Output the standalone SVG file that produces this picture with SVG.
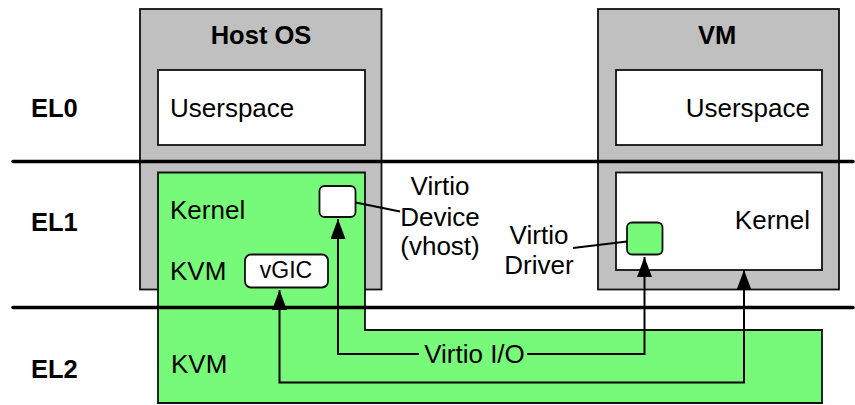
<svg xmlns="http://www.w3.org/2000/svg" width="855" height="405" viewBox="0 0 855 405">
<defs>
<style>
.t{font-family:"Liberation Sans",Arial,Helvetica,sans-serif;font-size:26px;fill:#000}
.b{font-weight:bold;font-size:25.5px}
.gray{fill:#c0c0c0;stroke:#111;stroke-width:1.8}
.white{fill:#fff;stroke:#111;stroke-width:1.8}
.green{fill:#77f97a;stroke:#111;stroke-width:1.8}
.el{stroke:#000;stroke-width:3.5;stroke-linecap:round;fill:none}
.conn{stroke:#000;stroke-width:2;fill:none}
</style>
<marker id="arr" markerUnits="userSpaceOnUse" markerWidth="20" markerHeight="15" refX="20" refY="7.5" orient="auto-start-reverse" viewBox="0 0 20 15">
<path d="M0,0 L20,7.5 L0,15 z" fill="#000"/>
</marker>
</defs>
<rect width="855" height="405" fill="#fff"/>

<g id="host-os">
<rect class="gray" x="140" y="9" width="241.5" height="280.5"/>
<text class="t b" x="261" y="44" text-anchor="middle">Host OS</text>
</g>
<g id="host-userspace">
<rect class="white" x="158" y="70" width="207" height="75"/>
<text class="t" x="170" y="117">Userspace</text>
</g>

<g id="vm">
<rect class="gray" x="598" y="9" width="241" height="280.5"/>
<text class="t b" x="717" y="44" text-anchor="middle">VM</text>
</g>
<g id="vm-userspace">
<rect class="white" x="616" y="70" width="206" height="75"/>
<text class="t" x="810" y="117" text-anchor="end">Userspace</text>
</g>
<g id="vm-kernel">
<rect class="white" x="616" y="172.5" width="206" height="97.5"/>
<text class="t" x="810" y="229" text-anchor="end">Kernel</text>
</g>

<g id="host-kernel-kvm">
<path class="green" d="M158,172.5 L365,172.5 L365,330 L822,330 L822,403 L158,403 Z"/>
<text class="t" x="170" y="219">Kernel</text>
<text class="t" x="170" y="280">KVM</text>
<text class="t" x="171" y="373">KVM</text>
</g>

<g id="levels">
<line class="el" x1="13" y1="161.5" x2="853" y2="161.5"/>
<line class="el" x1="13" y1="307.5" x2="853" y2="307.5"/>
<text class="t b" x="31" y="117">EL0</text>
<text class="t b" x="31" y="230.5">EL1</text>
<text class="t b" x="31" y="378">EL2</text>
</g>

<g id="vgic">
<rect class="white" x="245" y="254.5" width="83" height="33" rx="6"/>
<text class="t" x="286" y="278" text-anchor="middle" style="font-size:23px">vGIC</text>
</g>
<g id="virtio-device">
<rect class="white" x="319.5" y="186" width="36" height="31" rx="5"/>
<text class="t" x="440" y="195" text-anchor="middle">Virtio</text>
<text class="t" x="440" y="225.5" text-anchor="middle">Device</text>
<text class="t" x="440" y="255" text-anchor="middle">(vhost)</text>
</g>
<g id="virtio-driver">
<rect class="green" x="627" y="222.5" width="35.5" height="32" rx="5"/>
<text class="t" x="539" y="244" text-anchor="middle">Virtio</text>
<text class="t" x="539" y="274" text-anchor="middle">Driver</text>
</g>

<g id="connectors">
<line class="conn" x1="355.5" y1="202.5" x2="400" y2="211.5"/>
<line class="conn" x1="573" y1="248" x2="627" y2="241.5"/>
<path class="conn" d="M338,219 L338,354 L644.5,354 L644.5,257" marker-start="url(#arr)" marker-end="url(#arr)"/>
<rect x="419" y="340" width="108" height="28" fill="#77f97a"/>
<text class="t" x="474.5" y="362.5" text-anchor="middle">Virtio I/O</text>
<path class="conn" d="M279.5,290 L279.5,382.5 L744,382.5 L744,270" marker-start="url(#arr)" marker-end="url(#arr)"/>
</g>
</svg>
